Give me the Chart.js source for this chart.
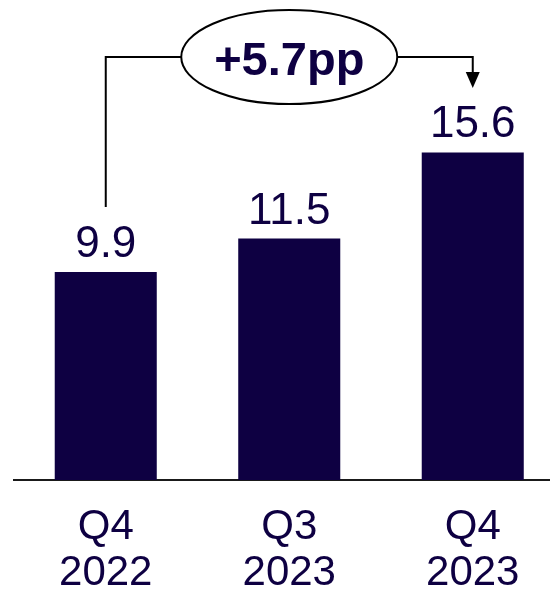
<!DOCTYPE html>
<html>
<head>
<meta charset="utf-8">
<script src="https://cdn.jsdelivr.net/npm/chart.js@4.4.1/dist/chart.umd.min.js"></script>
<style>
  html, body { margin: 0; padding: 0; background: #fff; overflow: hidden; }
  #wrap { width: 566px; height: 591px; }
</style>
</head>
<body>
<div id="wrap"><canvas id="chart" width="566" height="591"></canvas></div>
<script>
/* Chart data */
const categories = [["Q4", "2022"], ["Q3", "2023"], ["Q4", "2023"]];
const values = [9.9, 11.5, 15.6];
const valueLabels = ["9.9", "11.5", "15.6"];
const changeLabel = "+5.7pp";

const NAVY = "#0e0042";
const FONT = "'Liberation Sans', Arial, sans-serif";

/* Value labels above bars plus the bracket/ellipse callout */
const annotations = {
    id: "annotations",
    afterDatasetsDraw(chart) {
        const ctx = chart.ctx;
        const bars = chart.getDatasetMeta(0).data;

        ctx.save();
        ctx.fillStyle = NAVY;
        ctx.font = "44px " + FONT;
        ctx.textAlign = "center";
        ctx.textBaseline = "alphabetic";
        bars.forEach((bar, i) => {
            ctx.fillText(valueLabels[i], bar.x, bar.y - 15);
        });

        /* Callout */
        const first = bars[0], mid = bars[1], last = bars[bars.length - 1];
        const lineY = 57;
        const rx = 108, ry = 47;
        ctx.strokeStyle = "#000";
        ctx.lineWidth = 2;

        ctx.beginPath();
        ctx.moveTo(first.x, first.y - 65);
        ctx.lineTo(first.x, lineY);
        ctx.lineTo(mid.x - rx, lineY);
        ctx.stroke();

        const tipY = 88;
        ctx.beginPath();
        ctx.moveTo(mid.x + rx, lineY);
        ctx.lineTo(last.x, lineY);
        ctx.lineTo(last.x, tipY - 14);
        ctx.stroke();

        ctx.fillStyle = "#000";
        ctx.beginPath();
        ctx.moveTo(last.x - 7, tipY - 16);
        ctx.lineTo(last.x + 7, tipY - 16);
        ctx.lineTo(last.x, tipY);
        ctx.closePath();
        ctx.fill();

        ctx.fillStyle = "#fff";
        ctx.beginPath();
        ctx.ellipse(mid.x, lineY, rx, ry, 0, 0, Math.PI * 2);
        ctx.fill();
        ctx.stroke();

        ctx.fillStyle = NAVY;
        ctx.font = "bold 47px " + FONT;
        ctx.textBaseline = "alphabetic";
        ctx.fillText(changeLabel, mid.x, lineY + 18);
        ctx.restore();
    }
};

new Chart(document.getElementById("chart"), {
    type: "bar",
    data: {
        labels: categories,
        datasets: [{
            data: values,
            backgroundColor: NAVY,
            borderWidth: 0,
            categoryPercentage: 1.0,
            barPercentage: 0.556
        }]
    },
    options: {
        responsive: false,
        animation: false,
        devicePixelRatio: 1,
        layout: { padding: { left: 14, right: 1.5, top: 18, bottom: 0 } },
        plugins: {
            legend: { display: false },
            tooltip: { enabled: false }
        },
        scales: {
            x: {
                grid: { display: false, drawTicks: false },
                border: { display: true, color: "#1a1a1a", width: 2 },
                ticks: {
                    color: NAVY,
                    padding: 24,
                    font: { family: FONT, size: 42, lineHeight: 1.1 }
                },
                afterFit(scale) { scale.height = 111; }
            },
            y: {
                display: false,
                min: 0,
                max: 22
            }
        }
    },
    plugins: [annotations]
});
</script>
</body>
</html>
